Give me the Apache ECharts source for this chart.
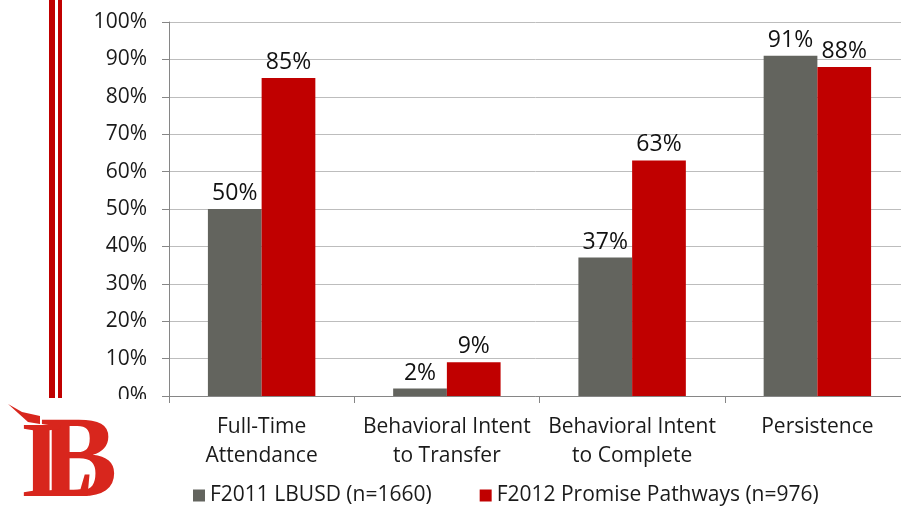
<!DOCTYPE html>
<html>
<head>
<meta charset="utf-8">
<script src="https://cdn.jsdelivr.net/npm/echarts@6/dist/echarts.min.js"></script>
<style>
  html, body { margin: 0; padding: 0; background: #fff; }
  #chart { width: 901px; height: 508px; }
</style>
</head>
<body>
<div id="chart"></div>
<script>
// data
var categories = ['Full-Time\nAttendance', 'Behavioral Intent\nto Transfer', 'Behavioral Intent\nto Complete', 'Persistence'];
var lbusd2011 = [50, 2, 37, 91];
var promise2012 = [85, 9, 63, 88];
var seriesNames = ['F2011 LBUSD (n=1660)', 'F2012 Promise Pathways (n=976)'];

var FONT = '"Open Sans", sans-serif';

var chart = echarts.init(document.getElementById('chart'));

var option = {
  backgroundColor: '#fff',
  animation: false,
  textStyle: { fontFamily: FONT },
  // plot runs a little past the right edge of the slide
  grid: { left: 169, width: 741, top: 22, bottom: 112, outerBoundsMode: 'none', containLabel: false },
  legend: {
    bottom: -3,
    left: 188,
    itemWidth: 12,
    itemHeight: 12,
    itemGap: 48,
    icon: 'rect',
    textStyle: { fontFamily: FONT, fontSize: 21, color: '#1a1a1a' },
    data: seriesNames
  },
  xAxis: {
    type: 'category',
    data: categories,
    axisLine: { lineStyle: { color: '#868686', width: 1 } },
    axisTick: { show: true, length: 7, lineStyle: { color: '#868686' } },
    axisLabel: { interval: 0, fontFamily: FONT, fontSize: 21, color: '#1a1a1a', margin: 17, lineHeight: 29 }
  },
  yAxis: {
    type: 'value',
    min: 0,
    max: 100,
    interval: 10,
    axisLine: { show: true, lineStyle: { color: '#868686' } },
    axisTick: { show: true, length: 7, lineStyle: { color: '#868686' } },
    axisLabel: { fontFamily: FONT, fontSize: 21, color: '#1a1a1a', margin: 22, formatter: '{value}%' },
    splitLine: { lineStyle: { color: '#bdbdbd', width: 1 } }
  },
  series: [
    {
      name: seriesNames[0],
      type: 'bar',
      data: lbusd2011,
      barGap: '0%',
      barCategoryGap: '42%',
      itemStyle: { color: '#63645e' },
      label: { show: true, position: 'top', distance: 4, formatter: '{c}%', fontFamily: FONT, fontSize: 23, color: '#111' }
    },
    {
      name: seriesNames[1],
      type: 'bar',
      data: promise2012,
      itemStyle: { color: '#c00000' },
      label: { show: true, position: 'top', distance: 4, formatter: '{c}%', fontFamily: FONT, fontSize: 23, color: '#111' }
    }
  ],
  graphic: [
    // red vertical rules at the slide edge
    { type: 'rect', shape: { x: 49, y: 0, width: 6, height: 398 }, style: { fill: '#c00000' }, z: 10 },
    { type: 'rect', shape: { x: 58, y: 0, width: 4, height: 398 }, style: { fill: '#c00000' }, z: 10 },
    // logo block (rough LB monogram); its white box clips the 0% label like the slide
    { type: 'rect', shape: { x: 0, y: 399, width: 150, height: 109 }, style: { fill: '#fff' }, z: 20 },
    { type: 'text', left: 40, top: 408, z: 21,
      style: { text: 'B', fill: '#d8261d', font: 'bold 116px "Liberation Serif", serif' } },
    { type: 'text', left: 22, top: 414, z: 22,
      style: { text: 'L', fill: '#d8261d', font: 'bold 108px "Liberation Serif", serif' } },
    { type: 'polygon', z: 22,
      shape: { points: [[8, 404], [22, 412], [40, 416], [40, 424], [28, 422]] },
      style: { fill: '#d8261d' } }
  ]
};

chart.setOption(option);
</script>
</body>
</html>
